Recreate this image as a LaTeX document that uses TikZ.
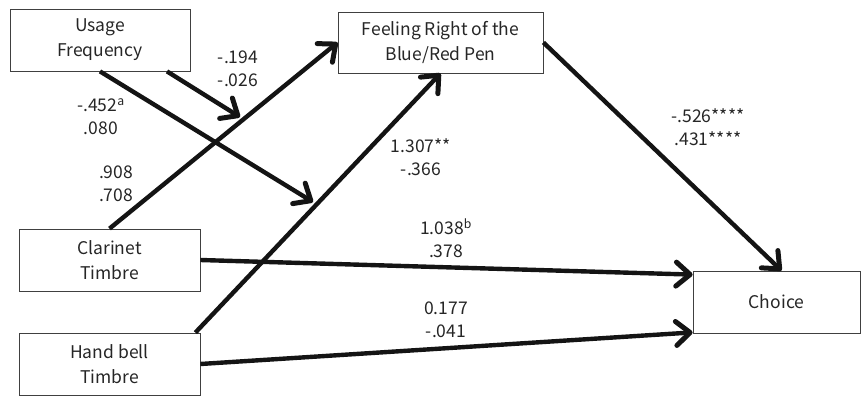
\documentclass[tikz,border=0pt]{standalone}
\usepackage{fontspec}
\setmainfont{Noto Sans CJK JP}
\usetikzlibrary{arrows.meta}

\tikzset{
  var/.style={draw=black!75, line width=0.8pt, rectangle, minimum height=62pt, inner sep=0pt, align=center, text=black!85, font=\fontsize{17.5}{25}\selectfont},
  coef/.style={inner sep=0pt, align=center, text=black!85, font=\fontsize{17.5}{23}\selectfont},
  link/.style={line width=4.4pt, draw=black!92, -{Straight Barb[length=14pt 0 0, width=24pt 0 0, line width=5pt, round]}}
}

\begin{document}
\begin{tikzpicture}[x=1pt, y=-1pt]
                \useasboundingbox (0,0) rectangle (861,396);
                \node[var, minimum width=180pt] (uf) at (100,40) {Usage\\Frequency};
                \node[var, minimum width=205pt, minimum height=61pt] (fr) at (440.5,42.5) {Feeling Right of the\\Blue/Red Pen};
                \node[var, minimum width=181pt] (cl) at (109.5,260) {Clarinet\\Timbre};
                \node[var, minimum width=181pt] (hb) at (109.5,364) {Hand bell\\Timbre};
                \node[var, minimum width=167pt] (ch) at (776.5,302) {Choice};
                \coordinate (m1) at (240,117);
                \coordinate (m2) at (313,202);

                \draw[link] (cl.north) -- (fr.west);
                \draw[link] ([xshift=-5pt]hb.north east) -- (fr.south);
                \draw[link] (uf.south) -- (m2);
                \draw[link] ([xshift=67pt]uf.south) -- (m1);
                \draw[link] (fr.east) -- ([xshift=5pt]ch.north);
                \draw[link] (cl.east) -- ([yshift=-4pt]ch.north west);
                \draw[link] (hb.east) -- ([yshift=1pt]ch.south west);

                \node[coef] (c1) at (238,69) {-.194\\-.026};
                \node[coef] (c2) at (101,117) {-.452\textsuperscript{a}\\.080};
                \node[coef] (c3) at (116,184) {.908\\.708};
                \node[coef] (c4) at (421,157) {1.307**\\-.366};
                \node[coef] (c5) at (708,127) {-.526****\\.431****};
                \node[coef] (c6) at (446,238) {1.038\textsuperscript{b}\\.378};
                \node[coef] (c7) at (446,320) {0.177\\-.041};
\end{tikzpicture}
\end{document}
